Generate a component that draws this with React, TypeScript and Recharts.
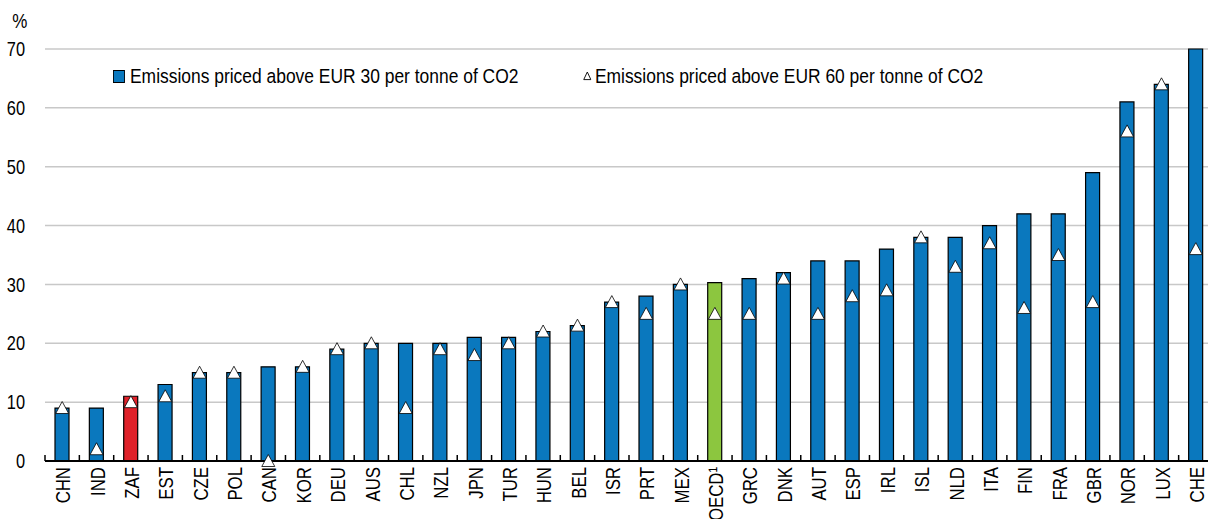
import React from 'react';
import { ComposedChart, Bar, Line, Cell, XAxis, YAxis, CartesianGrid } from 'recharts';

const countries = [
  'CHN', 'IND', 'ZAF', 'EST', 'CZE', 'POL', 'CAN', 'KOR', 'DEU', 'AUS', 'CHL', 'NZL',
  'JPN', 'TUR', 'HUN', 'BEL', 'ISR', 'PRT', 'MEX', 'OECD¹', 'GRC', 'DNK', 'AUT', 'ESP',
  'IRL', 'ISL', 'NLD', 'ITA', 'FIN', 'FRA', 'GBR', 'NOR', 'LUX', 'CHE',
];
const above30 = [
  9, 9, 11, 13, 15, 15, 16, 16, 19, 20, 20, 20,
  21, 21, 22, 23, 27, 28, 30, 30.3, 31, 32, 34, 34,
  36, 38, 38, 40, 42, 42, 49, 61, 64, 70,
];
const above60 = [
  9, 2, 10, 11, 15, 15, 0, 16, 19, 20, 9, 19,
  18, 20, 22, 23, 27, 25, 30, 25, 25, 31, 25, 28,
  29, 38, 33, 37, 26, 35, 27, 56, 64, 36,
];
const yTicks = [0, 10, 20, 30, 40, 50, 60, 70];

const series30 = 'Emissions priced above EUR 30 per tonne of CO2';
const series60 = 'Emissions priced above EUR 60 per tonne of CO2';

const BLUE = '#0a78be';
const RED = '#e0222a';
const GREEN = '#8cc63f';
// no narrow font installed, so regular Arial-like text is squeezed sideways
const FONT = "'Liberation Sans', Arial, sans-serif";

const data = countries.map((c, i) => ({ name: c, p30: above30[i], p60: above60[i] }));

const W = 1214;
const H = 519;
const LEFT = 45;
const RIGHT = 1;
const BAND = (W - LEFT - RIGHT) / countries.length;

const barColor = (name: string) => (name === 'ZAF' ? RED : name.startsWith('OECD') ? GREEN : BLUE);

const Triangle = (props: any) => {
  const { cx, cy } = props;
  if (cx == null || cy == null) return null;
  return (
    <path
      d={`M${cx},${cy - 6.5} L${cx + 6.5},${cy + 5.5} L${cx - 6.5},${cy + 5.5} Z`}
      fill="#fff"
      stroke="#000"
      strokeWidth={0.8}
    />
  );
};

const XTick = (props: any) => {
  const { x, y, payload, index } = props;
  const left = x - BAND / 2;
  return (
    <g>
      <line x1={left} y1={y - 6} x2={left} y2={y} stroke="#000" strokeWidth={1.5} />
      {index === countries.length - 1 && (
        <line x1={x + BAND / 2} y1={y - 6} x2={x + BAND / 2} y2={y} stroke="#000" strokeWidth={1.5} />
      )}
      <text
        transform={`translate(${x + 1},${y + 6}) rotate(-90) scale(0.8,1)`}
        textAnchor="end"
        dominantBaseline="central"
        fontSize={21}
        fontFamily={FONT}
        fill="#000"
      >
        {payload.value}
      </text>
    </g>
  );
};

const YTick = (props: any) => {
  const { x, y, payload } = props;
  return (
    <text
      transform={`translate(${x},${y}) scale(0.82,1)`}
      textAnchor="end"
      dominantBaseline="central"
      fontSize={20}
      fontFamily={FONT}
      fill="#000"
    >
      {payload.value}
    </text>
  );
};

const LegendBox = () => (
  <div
    style={{
      position: 'absolute', left: 113, top: 64, display: 'flex', alignItems: 'center',
      fontFamily: FONT, fontSize: 20.5, color: '#000', whiteSpace: 'nowrap',
      transform: 'scaleX(0.85)', transformOrigin: 'left center',
    }}
  >
    <span style={{ display: 'inline-block', width: 12, height: 11, background: BLUE, border: '1px solid #000', marginRight: 6 }} />
    <span>{series30}</span>
    <svg width={10} height={10} style={{ marginLeft: 76, marginRight: 4 }}>
      <path d="M5,1 L9.2,8.6 L0.8,8.6 Z" fill="#fff" stroke="#000" strokeWidth={1} />
    </svg>
    <span>{series60}</span>
  </div>
);

export default function App() {
  return (
    <div style={{ position: 'absolute', left: 0, top: 0, width: 1208, height: H, overflow: 'hidden', background: '#fff' }}>
      <div style={{ position: 'absolute', left: 11, top: 10, fontFamily: FONT, fontSize: 20, transform: 'scaleX(0.85)' }}>%</div>
      <ComposedChart width={W} height={H} data={data} margin={{ top: 49, right: RIGHT, bottom: 0, left: 0 }} barSize={14}>
        <CartesianGrid vertical={false} stroke="#c8c8c8" strokeWidth={1.5} />
        <XAxis
          dataKey="name"
          interval={0}
          height={58}
          tickLine={false}
          tickSize={0}
          tickMargin={0}
          axisLine={{ stroke: '#000', strokeWidth: 2 }}
          tick={<XTick />}
        />
        <YAxis
          width={LEFT}
          domain={[0, 70]}
          ticks={yTicks}
          axisLine={false}
          tickLine={false}
          tickSize={0}
          tickMargin={20}
          tick={<YTick />}
        />
        <Bar dataKey="p30" name={series30} stroke="#000" strokeWidth={1.2} isAnimationActive={false}>
          {data.map((d, i) => (
            <Cell key={`c-${i}`} fill={barColor(d.name)} />
          ))}
        </Bar>
        <Line
          dataKey="p60"
          name={series60}
          stroke="none"
          dot={<Triangle />}
          activeDot={false}
          isAnimationActive={false}
        />
      </ComposedChart>
      <LegendBox />
    </div>
  );
}
